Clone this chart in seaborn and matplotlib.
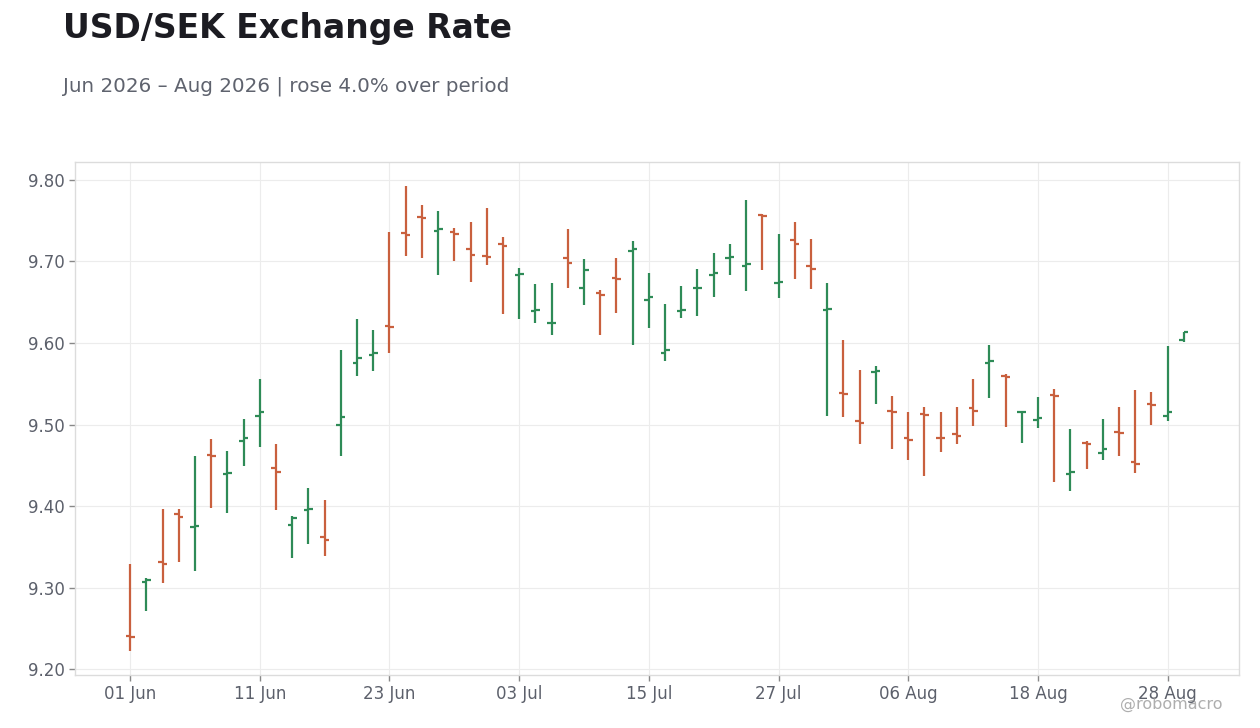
import pandas as pd
import matplotlib.pyplot as plt
import seaborn as sns

# trading days Jun-Aug 2026
dates = pd.bdate_range("2026-06-01", "2026-08-31")

opens = [9.241, 9.307, 9.331, 9.391, 9.374, 9.463, 9.439, 9.480, 9.511, 9.447,
         9.377, 9.395, 9.362, 9.500, 9.575, 9.585, 9.621, 9.735, 9.755, 9.737,
         9.736, 9.715, 9.707, 9.721, 9.683, 9.639, 9.624, 9.704, 9.667, 9.661,
         9.680, 9.713, 9.653, 9.588, 9.639, 9.667, 9.683, 9.704, 9.694, 9.757,
         9.674, 9.726, 9.695, 9.640, 9.539, 9.504, 9.565, 9.517, 9.483, 9.513,
         9.484, 9.488, 9.520, 9.576, 9.559, 9.515, 9.506, 9.536, 9.440, 9.478,
         9.465, 9.491, 9.454, 9.525, 9.510, 9.604]
highs = [9.329, 9.312, 9.397, 9.397, 9.461, 9.482, 9.468, 9.507, 9.556, 9.476,
         9.388, 9.422, 9.408, 9.592, 9.630, 9.616, 9.736, 9.793, 9.769, 9.762,
         9.741, 9.749, 9.765, 9.730, 9.692, 9.673, 9.674, 9.740, 9.703, 9.665,
         9.704, 9.725, 9.686, 9.648, 9.670, 9.691, 9.711, 9.722, 9.775, 9.758,
         9.734, 9.749, 9.728, 9.674, 9.604, 9.567, 9.572, 9.535, 9.516, 9.521,
         9.515, 9.521, 9.556, 9.598, 9.562, 9.517, 9.534, 9.544, 9.495, 9.480,
         9.507, 9.521, 9.542, 9.540, 9.596, 9.614]
lows = [9.222, 9.272, 9.306, 9.331, 9.321, 9.398, 9.392, 9.449, 9.472, 9.395,
        9.337, 9.354, 9.339, 9.461, 9.560, 9.566, 9.588, 9.707, 9.704, 9.683,
        9.700, 9.675, 9.696, 9.635, 9.629, 9.625, 9.610, 9.668, 9.647, 9.610,
        9.637, 9.597, 9.618, 9.578, 9.631, 9.633, 9.657, 9.683, 9.664, 9.690,
        9.655, 9.678, 9.666, 9.511, 9.509, 9.476, 9.525, 9.470, 9.457, 9.437,
        9.466, 9.476, 9.498, 9.533, 9.497, 9.477, 9.496, 9.430, 9.419, 9.445,
        9.456, 9.461, 9.441, 9.500, 9.504, 9.601]
closes = [9.239, 9.309, 9.329, 9.387, 9.376, 9.461, 9.441, 9.483, 9.516, 9.442,
          9.385, 9.397, 9.358, 9.509, 9.582, 9.588, 9.620, 9.733, 9.753, 9.740,
          9.734, 9.708, 9.706, 9.719, 9.685, 9.641, 9.625, 9.698, 9.690, 9.659,
          9.678, 9.715, 9.656, 9.591, 9.641, 9.668, 9.686, 9.706, 9.697, 9.756,
          9.675, 9.721, 9.691, 9.642, 9.537, 9.502, 9.566, 9.515, 9.481, 9.512,
          9.483, 9.486, 9.517, 9.578, 9.558, 9.516, 9.508, 9.535, 9.442, 9.476,
          9.470, 9.490, 9.452, 9.524, 9.515, 9.613]

df = pd.DataFrame({"date": dates, "open": opens, "high": highs,
                   "low": lows, "close": closes})
df["idx"] = range(len(df))
up_color = "#2e8b57"
down_color = "#c9603e"
df["color"] = [up_color if c >= o else down_color for o, c in zip(df["open"], df["close"])]

sns.set_theme(style="whitegrid")
plt.rcParams["font.family"] = ["DejaVu Sans"]

fig = plt.figure(figsize=(12.6, 7.28), dpi=100)
ax = fig.add_axes([0.0595, 0.0728, 0.9238, 0.7047])

tick_w = 0.28
ax.vlines(df["idx"], df["low"], df["high"], colors=df["color"], lw=1.6, zorder=3)
ax.hlines(df["open"], df["idx"] - tick_w, df["idx"], colors=df["color"], lw=1.6, zorder=3)
ax.hlines(df["close"], df["idx"], df["idx"] + tick_w, colors=df["color"], lw=1.6, zorder=3)

ax.set_xlim(-3.4, 68.4)
ax.set_ylim(9.193, 9.822)
ax.set_yticks([9.2, 9.3, 9.4, 9.5, 9.6, 9.7, 9.8])
ax.yaxis.set_major_formatter(plt.FormatStrFormatter("%.2f"))
xt = df["idx"][::8]
ax.set_xticks(xt)
ax.set_xticklabels(df["date"][::8].dt.strftime("%d %b"))

ax.grid(True, color="#ececec", lw=0.8)
for s in ax.spines.values():
    s.set_color("#dcdcdc")
    s.set_linewidth(1.0)
ax.tick_params(axis="both", colors="#5c606b", labelsize=12, length=4,
               width=1, direction="out", bottom=True, left=True)
ax.tick_params(axis="both", color="#888888")
ax.set_xlabel("")
ax.set_ylabel("")

fig.text(0.05, 0.9615, "USD/SEK Exchange Rate", fontsize=23.8, fontweight="bold",
         color="#1c1c22", va="center", ha="left")
fig.text(0.05, 0.882, "Jun 2026 \u2013 Aug 2026 | rose 4.0% over period", fontsize=14.3,
         color="#5f636e", va="center", ha="left")
fig.text(0.97, 0.032, "@robomacro", fontsize=11.5, color="#9a9a9a", alpha=0.8,
         ha="right", va="center")

fig.savefig("out.png", dpi=100, facecolor="white")
